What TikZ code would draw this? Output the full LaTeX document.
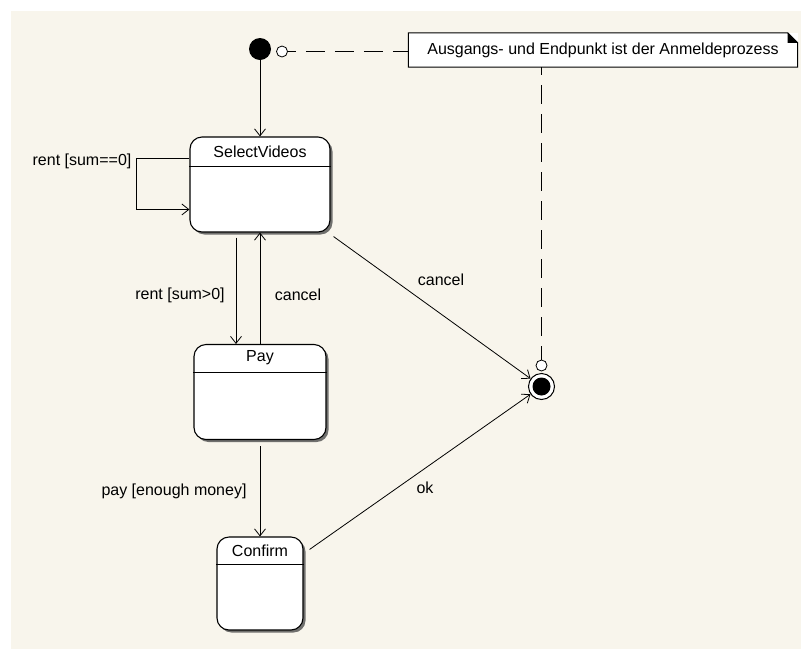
\documentclass[tikz,border=0pt]{standalone}
\usepackage{fontspec}
\setmainfont{Liberation Sans}
\usetikzlibrary{arrows.meta,shadows,calc}
\definecolor{paper}{RGB}{248,245,236}
\tikzset{
  lbl/.style={font=\fontsize{16}{19}\selectfont, inner sep=0pt},
  statebox/.style={draw, line width=1.1pt, fill=white, rounded corners=12pt, rectangle, inner sep=0pt,
    drop shadow={shadow xshift=2.5pt, shadow yshift=-2.5pt, fill=black!65, opacity=0.85}},
  trans/.style={line width=0.8pt, -{Straight Barb[length=7pt,width=11pt,line width=0.8pt]}},
  notelink/.style={line width=0.9pt, dash pattern=on 19pt off 10pt, dash phase=11pt},
  pin/.style={circle, draw, line width=0.8pt, fill=white, minimum size=11pt, inner sep=0pt},
}
\begin{document}
\begin{tikzpicture}[x=1pt,y=-1pt]
\useasboundingbox (0,0) rectangle (801,649);
\fill[white] (0,0) rectangle (801,649);
\fill[paper] (11,11) rectangle (801,649);

% states
\node[statebox, minimum width=140pt, minimum height=95pt] (sel) at (260,184.5) {};
\node[statebox, minimum width=132pt, minimum height=95pt] (pay) at (260,392) {};
\node[statebox, minimum width=86pt, minimum height=93pt] (conf) at (260,583.5) {};
\draw[line width=1pt] ($(sel.north west)+(0,30)$) -- ($(sel.north east)+(0,30)$);
\draw[line width=1pt] ($(pay.north west)+(0,29)$) -- ($(pay.north east)+(0,29)$);
\draw[line width=1pt] ($(conf.north west)+(0,28)$) -- ($(conf.north east)+(0,28)$);
\node[lbl] (selt) at ($(sel.north)+(0,15)$) {SelectVideos};
\node[lbl] (payt) at ($(pay.north)+(0,14)$) {Pay};
\node[lbl] (conft) at ($(conf.north)+(0,14)$) {Confirm};

% pseudo states
\node[circle, fill=black, minimum size=22pt, inner sep=0pt] (init) at (260,49) {};
\node[pin] (pin1) at (282,51.5) {};
\node[circle, draw, line width=1pt, fill=white, minimum size=26pt, inner sep=0pt] (fin) at (541.5,386.5) {};
\node[circle, fill=black, minimum size=18pt, inner sep=0pt] (finc) at (fin) {};
\node[pin] (pin2) at (541.5,365.5) {};

% note with folded corner
\node[lbl, fill=white, minimum width=389pt, minimum height=34pt] (note) at (603,50) {Ausgangs- und Endpunkt ist der Anmeldeprozess};
\draw[line width=1pt] (note.north west) -- ([xshift=-10pt]note.north east) -- ([yshift=-10pt]note.north east)
  -- (note.south east) -- (note.south west) -- cycle;
\fill ([xshift=-10pt]note.north east) -- ([xshift=-10pt,yshift=-10pt]note.north east) -- ([yshift=-10pt]note.north east) -- cycle;
\draw[notelink] (pin1.east) -- (note.west |- pin1);
\draw[notelink] (note.south -| pin2) -- (pin2.north);

% transitions
\draw[trans] (init.south) -- (sel.north);
\draw[trans] ($(sel.north west)+(0,22)$) -- ++(-53,0) -- ++(0,51) -- ($(sel.north west)+(0,73)$);
\draw[trans] ($(sel.south)+(-24,5)$) -- ($(pay.north)+(-24,0)$);
\draw[trans] (pay.north) -- (sel.south);
\draw[trans] ($(pay.south)+(0,6)$) -- (conf.north);
\draw[trans] ($(sel.south east)+(3,4)$) -- (fin);
\draw[trans] ($(conf.north east)+(6,13)$) -- (fin);

% labels
\node[lbl] (l1) at (82,161) {rent [sum==0]};
\node[lbl] (l2) at (180,295) {rent [sum>0]};
\node[lbl] (l3) at (298,295) {cancel};
\node[lbl] (l4) at (441,280) {cancel};
\node[lbl] (l5) at (174,491) {pay [enough money]};
\node[lbl] (l6) at (425,488) {ok};
\end{tikzpicture}
\end{document}
